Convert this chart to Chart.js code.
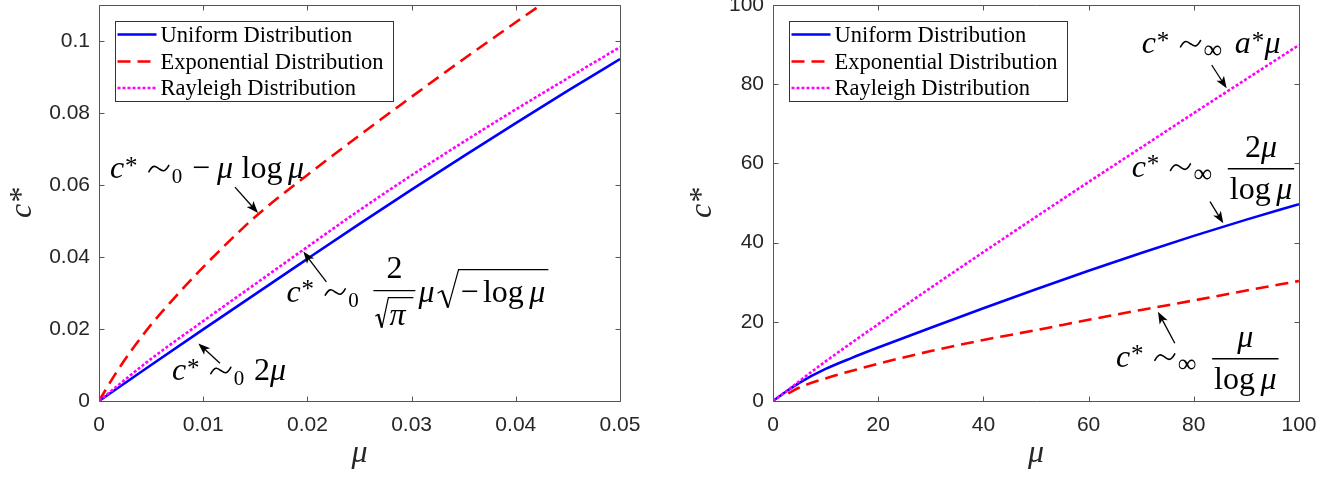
<!DOCTYPE html>
<html>
<head>
<meta charset="utf-8">
<script src="https://cdn.jsdelivr.net/npm/chart.js@4"></script>
<style>
  html, body { margin: 0; padding: 0; background: #fff; }
  #wrap { position: relative; width: 1341px; height: 478px; }
  .panel { position: absolute; top: 0; }
  #left { left: 0; }
  #right { left: 680px; }
</style>
</head>
<body>
<div id="wrap">
  <div class="panel" id="left"><canvas id="smallMu" width="660" height="478"></canvas></div>
  <div class="panel" id="right"><canvas id="largeMu" width="661" height="478"></canvas></div>
</div>
<script>
var seriesNames = ['Uniform Distribution', 'Exponential Distribution', 'Rayleigh Distribution'];

/* left panel: small mu */
var smallUniformMu = [0, 0.005, 0.01, 0.015, 0.02, 0.025, 0.03, 0.035, 0.04, 0.045, 0.05];
var smallUniformC  = [0, 0.0100, 0.0199, 0.0297, 0.0395, 0.0492, 0.0587, 0.0680, 0.0772, 0.0862, 0.0950];

var smallExpMu = [0, 0.0015, 0.003, 0.005, 0.0075, 0.01, 0.0125, 0.015, 0.02, 0.025, 0.03, 0.035, 0.04, 0.045];
var smallExpC  = [0, 0.0072, 0.0136, 0.0212, 0.0295, 0.0372, 0.0444, 0.0512, 0.0628, 0.0738, 0.0845, 0.0950, 0.1052, 0.1152];

var smallRayMu = [0, 0.005, 0.01, 0.015, 0.02, 0.025, 0.03, 0.035, 0.04, 0.045, 0.05];
var smallRayC  = [0, 0.0117, 0.0222, 0.0325, 0.0428, 0.0530, 0.0627, 0.0720, 0.0810, 0.0897, 0.0983];

var smallXTicks = [0, 0.01, 0.02, 0.03, 0.04, 0.05];
var smallXLabels = ['0', '0.01', '0.02', '0.03', '0.04', '0.05'];
var smallYTicks = [0, 0.02, 0.04, 0.06, 0.08, 0.1];
var smallYLabels = ['0', '0.02', '0.04', '0.06', '0.08', '0.1'];

/* right panel: large mu */
var largeUniformMu = [0, 2.7, 5, 10, 15, 20, 30, 40, 50, 60, 70, 80, 90, 100];
var largeUniformC  = [0, 2.6, 4.6, 8.1, 10.9, 13.5, 18.5, 23.4, 28.2, 32.9, 37.4, 41.7, 45.8, 49.7];

var largeExpMu = [2.9, 5, 10, 20, 30, 40, 50, 60, 70, 80, 90, 100];
var largeExpC  = [1.9, 3.4, 5.7, 9.4, 12.6, 15.4, 17.9, 20.5, 23.0, 25.4, 27.9, 30.3];

var largeRayMu = [0, 2.7, 5, 10, 20, 30, 40, 50, 60, 70, 80, 90, 100];
var largeRayC  = [0, 2.6, 5.0, 10.0, 19.4, 28.6, 37.6, 46.5, 55.3, 64.0, 72.7, 81.3, 89.9];

var largeXTicks = [0, 20, 40, 60, 80, 100];
var largeXLabels = ['0', '20', '40', '60', '80', '100'];
var largeYTicks = [0, 20, 40, 60, 80, 100];
var largeYLabels = ['0', '20', '40', '60', '80', '100'];

var SERIF = '"Liberation Serif", "Times New Roman", serif';
var S = 32; // math font size

function points(xs, ys) {
  return xs.map(function (x, i) { return { x: x, y: ys[i] }; });
}

function line(label, data, color, dash, order) {
  return {
    label: label, data: data,
    borderColor: color, backgroundColor: color,
    borderWidth: 2.6, borderDash: dash, borderCapStyle: 'butt',
    pointRadius: 0, fill: false,
    cubicInterpolationMode: 'monotone',
    order: order
  };
}

function axis(ticks, labels, min, max, title, isY, size, titlePad, labelPad) {
  return {
    type: 'linear', min: min, max: max,
    afterBuildTicks: function (s) { s.ticks = ticks.map(function (v) { return { value: v }; }); },
    afterFit: function (s) {
      if (isY) s.width = size; else s.height = size;
      s.paddingLeft = s.paddingRight = s.paddingTop = s.paddingBottom = 0;
    },
    grid: { display: false, drawTicks: false },
    border: { display: false },
    ticks: {
      autoSkip: false, maxRotation: 0, padding: labelPad, color: '#262626',
      font: { family: '"Liberation Sans", Arial, sans-serif', size: 21 },
      callback: function (v, i) { return labels[i]; }
    },
    title: {
      display: true, text: title, color: '#262626', padding: titlePad,
      font: { family: SERIF, size: 32, style: 'italic' }
    }
  };
}

/* matlab style box with ticks pointing inward on all sides */
var boxPlugin = {
  id: 'box',
  afterDatasetsDraw: function (chart) {
    var ctx = chart.ctx, a = chart.chartArea, sx = chart.scales.x, sy = chart.scales.y;
    var L = Math.round(a.left) + 0.5, R = Math.round(a.right) + 0.5;
    var T = Math.round(a.top) + 0.5, B = Math.round(a.bottom) + 0.5;
    ctx.save();
    ctx.strokeStyle = '#555';
    ctx.lineWidth = 1;
    ctx.beginPath();
    sx.ticks.forEach(function (t) {
      var p = Math.round(sx.getPixelForValue(t.value)) + 0.5;
      ctx.moveTo(p, B); ctx.lineTo(p, B - 5);
      ctx.moveTo(p, T); ctx.lineTo(p, T + 5);
    });
    sy.ticks.forEach(function (t) {
      var p = Math.round(sy.getPixelForValue(t.value)) + 0.5;
      ctx.moveTo(L, p); ctx.lineTo(L + 5, p);
      ctx.moveTo(R, p); ctx.lineTo(R - 5, p);
    });
    ctx.rect(L, T, R - L, B - T);
    ctx.stroke();
    ctx.restore();
  }
};

var legendPlugin = {
  id: 'boxLegend',
  afterDraw: function (chart) {
    var ctx = chart.ctx, a = chart.chartArea;
    var left = Math.round(a.left) + 16.5, top = Math.round(a.top) + 16.5;
    var rows = [13, 40, 66.5];
    ctx.save();
    ctx.fillStyle = '#fff';
    ctx.fillRect(left, top, 278, 80);
    ctx.strokeStyle = '#333';
    ctx.lineWidth = 1;
    ctx.strokeRect(left, top, 278, 80);
    chart.data.datasets.forEach(function (ds, i) {
      var yy = top + rows[i];
      ctx.beginPath();
      ctx.setLineDash(ds.borderDash || []);
      ctx.strokeStyle = ds.borderColor;
      ctx.lineWidth = ds.borderWidth;
      ctx.moveTo(left + 2, yy);
      ctx.lineTo(left + 41, yy);
      ctx.stroke();
      ctx.setLineDash([]);
      ctx.fillStyle = '#000';
      ctx.font = '22.5px ' + SERIF;
      ctx.textBaseline = 'alphabetic';
      ctx.textAlign = 'left';
      ctx.fillText(ds.label, left + 45, yy + 7);
    });
    ctx.restore();
  }
};

/* small helpers for the math labels */
function mathFont(kind) {
  var size = S;
  if (kind === 'sub') size = Math.round(S * 0.66);
  if (kind === 'sup') size = Math.round(S * 0.78);
  if (kind === 'inf') size = Math.round(S * 0.8);
  return (kind === 'i' ? 'italic ' : '') + size + 'px ' + SERIF;
}

function tilde(ctx, x, y, w) {
  var cy = y - 0.3 * S, a = 3.2, x0 = x + 2, x1 = x + w - 3, m = (x0 + x1) / 2;
  ctx.save();
  ctx.strokeStyle = '#000';
  ctx.lineWidth = 1.6;
  ctx.lineCap = 'round';
  ctx.beginPath();
  ctx.moveTo(x0, cy + a);
  ctx.bezierCurveTo(x0 + (m - x0) * 0.45, cy - a * 1.6, m - (m - x0) * 0.3, cy - a * 0.6, m, cy);
  ctx.bezierCurveTo(m + (x1 - m) * 0.3, cy + a * 0.6, x1 - (x1 - m) * 0.45, cy + a * 1.6, x1, cy - a);
  ctx.stroke();
  ctx.restore();
}

function run(ctx, x, y, toks, dry) {
  toks.forEach(function (t) {
    var kind = t[1];
    if (kind === 'sp') { x += t[2] * S; return; }
    if (kind === 'tilde') { if (!dry) tilde(ctx, x, y, t[2] * S); x += t[2] * S; return; }
    ctx.font = mathFont(kind);
    var dy = 0;
    if (kind === 'sup') dy = -0.14 * S;
    if (kind === 'sub' || kind === 'inf') dy = 0.16 * S;
    if (!dry) ctx.fillText(t[0], x, y + dy);
    x += t[2] != null ? t[2] * S : ctx.measureText(t[0]).width;
  });
  return x;
}

function hline(ctx, x1, x2, y) {
  ctx.save();
  ctx.strokeStyle = '#000';
  ctx.lineWidth = 1.4;
  ctx.beginPath(); ctx.moveTo(x1, y); ctx.lineTo(x2, y); ctx.stroke();
  ctx.restore();
}

function radical(ctx, x, top, bottom, corner, overW) {
  var h = bottom - top;
  ctx.save();
  ctx.strokeStyle = '#000';
  ctx.lineWidth = 1.2;
  ctx.beginPath(); ctx.moveTo(x, top + h * 0.62); ctx.lineTo(x + corner * 0.22, top + h * 0.55); ctx.stroke();
  ctx.lineWidth = 2.2;
  ctx.beginPath(); ctx.moveTo(x + corner * 0.22, top + h * 0.55); ctx.lineTo(x + corner * 0.5, bottom); ctx.stroke();
  ctx.lineWidth = 1.2;
  ctx.beginPath(); ctx.moveTo(x + corner * 0.5, bottom); ctx.lineTo(x + corner, top); ctx.lineTo(x + corner + overW, top); ctx.stroke();
  ctx.restore();
}

function arrow(ctx, x1, y1, x2, y2) {
  var ang = Math.atan2(y2 - y1, x2 - x1), c = Math.cos(ang), s = Math.sin(ang), L = 12, W = 4.5;
  ctx.save();
  ctx.strokeStyle = '#000';
  ctx.fillStyle = '#000';
  ctx.lineWidth = 1.3;
  ctx.beginPath(); ctx.moveTo(x1, y1); ctx.lineTo(x2 - L * 0.7 * c, y2 - L * 0.7 * s); ctx.stroke();
  ctx.beginPath();
  ctx.moveTo(x2, y2);
  ctx.lineTo(x2 - L * c + W * s, y2 - L * s - W * c);
  ctx.lineTo(x2 - L * 0.75 * c, y2 - L * 0.75 * s);
  ctx.lineTo(x2 - L * c - W * s, y2 - L * s + W * c);
  ctx.closePath();
  ctx.fill();
  ctx.restore();
}

var SIM0 = [['c', 'i', 0.47], ['*', 'sup', 0.4], ['', 'sp', 0.28], ['', 'tilde', 0.78], ['0', 'sub', 0.35], ['', 'sp', 0.28]];
var SIMINF = [['c', 'i', 0.47], ['*', 'sup', 0.4], ['', 'sp', 0.28], ['', 'tilde', 0.78], ['\u221E', 'inf', 0.7], ['', 'sp', 0.28]];
var LOGMU = [['log', 'r'], ['', 'sp', 0.17], ['\u03BC', 'i']];

function noteNegMuLog(ctx, x, y) {
  run(ctx, x, y, SIM0.concat([['\u2212', 'r', 0.78], ['\u03BC', 'i', 0.6], ['', 'sp', 0.17]], LOGMU));
}

function noteTwoMu(ctx, x, y) {
  run(ctx, x, y, SIM0.concat([['2', 'r', 0.5], ['\u03BC', 'i']]));
}

function noteRaySmall(ctx, x, y) {
  x = run(ctx, x, y, SIM0);
  var bar = y - 11, w = 42;
  hline(ctx, x + 5, x + 5 + w, bar);
  ctx.font = mathFont('r');
  ctx.textAlign = 'center';
  ctx.fillText('2', x + 5 + w / 2, bar - 13);
  ctx.textAlign = 'left';
  radical(ctx, x + 7, bar + 7, bar + 37, 13, 25);
  ctx.font = mathFont('i');
  ctx.fillText('\u03C0', x + 21, bar + 34);
  x = run(ctx, x + 50, y, [['\u03BC', 'i', 0.6]]);
  var inner = [['\u2212', 'r', 0.62], ['', 'sp', 0.08]].concat(LOGMU);
  var iw = run(ctx, 0, 0, inner, true);
  radical(ctx, x, y - 32, y + 6, 21, iw + 5);
  run(ctx, x + 23, y, inner);
}

function noteAStar(ctx, x, y) {
  run(ctx, x, y, SIMINF.concat([['a', 'i', 0.53], ['*', 'sup', 0.4], ['\u03BC', 'i']]));
}

function fracNote(num) {
  return function (ctx, x, y) {
    x = run(ctx, x, y, SIMINF);
    var dw = run(ctx, 0, 0, LOGMU, true), nw = run(ctx, 0, 0, num, true);
    var w = dw + 4, bar = y - 8;
    hline(ctx, x + 3, x + 3 + w, bar);
    run(ctx, x + 3 + (w - nw) / 2, bar - 12, num);
    run(ctx, x + 5, bar + 30, LOGMU);
  };
}

function notesPlugin(notes) {
  return {
    id: 'notes',
    afterDraw: function (chart) {
      var ctx = chart.ctx, sx = chart.scales.x, sy = chart.scales.y;
      ctx.save();
      ctx.fillStyle = '#000';
      ctx.textBaseline = 'alphabetic';
      ctx.textAlign = 'left';
      notes.forEach(function (n) {
        arrow(ctx, sx.getPixelForValue(n.from[0]), sy.getPixelForValue(n.from[1]),
                   sx.getPixelForValue(n.to[0]), sy.getPixelForValue(n.to[1]));
        ctx.fillStyle = '#000';
        n.draw(ctx, sx.getPixelForValue(n.at[0]), sy.getPixelForValue(n.at[1]));
      });
      ctx.restore();
    }
  };
}

function makeChart(id, sets, xAxis, yAxis, padRight, notes) {
  return new Chart(document.getElementById(id), {
    type: 'line',
    data: { datasets: sets },
    options: {
      responsive: false,
      animation: false,
      events: [],
      layout: { padding: { top: 5, right: padRight, bottom: 0, left: 0 }, autoPadding: false },
      plugins: { legend: { display: false }, tooltip: { enabled: false } },
      scales: { x: xAxis, y: yAxis }
    },
    plugins: [boxPlugin, legendPlugin, notesPlugin(notes)]
  });
}

makeChart('smallMu', [
    line(seriesNames[0], points(smallUniformMu, smallUniformC), '#0000ff', [], 3),
    line(seriesNames[1], points(smallExpMu, smallExpC), '#ff0000', [13, 7], 2),
    line(seriesNames[2], points(smallRayMu, smallRayC), '#ff00ff', [3, 2], 1)
  ],
  axis(smallXTicks, smallXLabels, 0, 0.05, '\u03BC', false, 77, { top: 0, bottom: 5.6 }, 12),
  axis(smallYTicks, smallYLabels, 0, 0.11, 'c*', true, 99, { top: 3, bottom: 0 }, 9),
  40,
  [
    { at: [0.00106, 0.0619], from: [0.01305, 0.0594], to: [0.01526, 0.0522], draw: noteNegMuLog },
    { at: [0.01799, 0.0276], from: [0.02182, 0.0331], to: [0.01961, 0.0415], draw: noteRaySmall },
    { at: [0.00701, 0.0058], from: [0.01161, 0.0105], to: [0.00953, 0.0160], draw: noteTwoMu }
  ]);

makeChart('largeMu', [
    line(seriesNames[0], points(largeUniformMu, largeUniformC), '#0000ff', [], 3),
    line(seriesNames[1], points(largeExpMu, largeExpC), '#ff0000', [13, 7], 2),
    line(seriesNames[2], points(largeRayMu, largeRayC), '#ff00ff', [3, 2], 1)
  ],
  axis(largeXTicks, largeXLabels, 0, 100, '\u03BC', false, 77, { top: 0, bottom: 5.6 }, 12),
  axis(largeYTicks, largeYLabels, 0, 100, 'c*', true, 93, { top: 3, bottom: 0 }, 9),
  42,
  [
    { at: [70.1, 87.8], from: [83.4, 84.85], to: [86.25, 78.96], draw: noteAStar },
    { at: [68.19, 56.64], from: [83.08, 50.33], to: [85.61, 44.87], draw: fracNote([['2', 'r', 0.5], ['\u03BC', 'i']]) },
    { at: [65.21, 8.66], from: [76.39, 14.57], to: [73.19, 22.55], draw: fracNote([['\u03BC', 'i']]) }
  ]);
</script>
</body>
</html>
